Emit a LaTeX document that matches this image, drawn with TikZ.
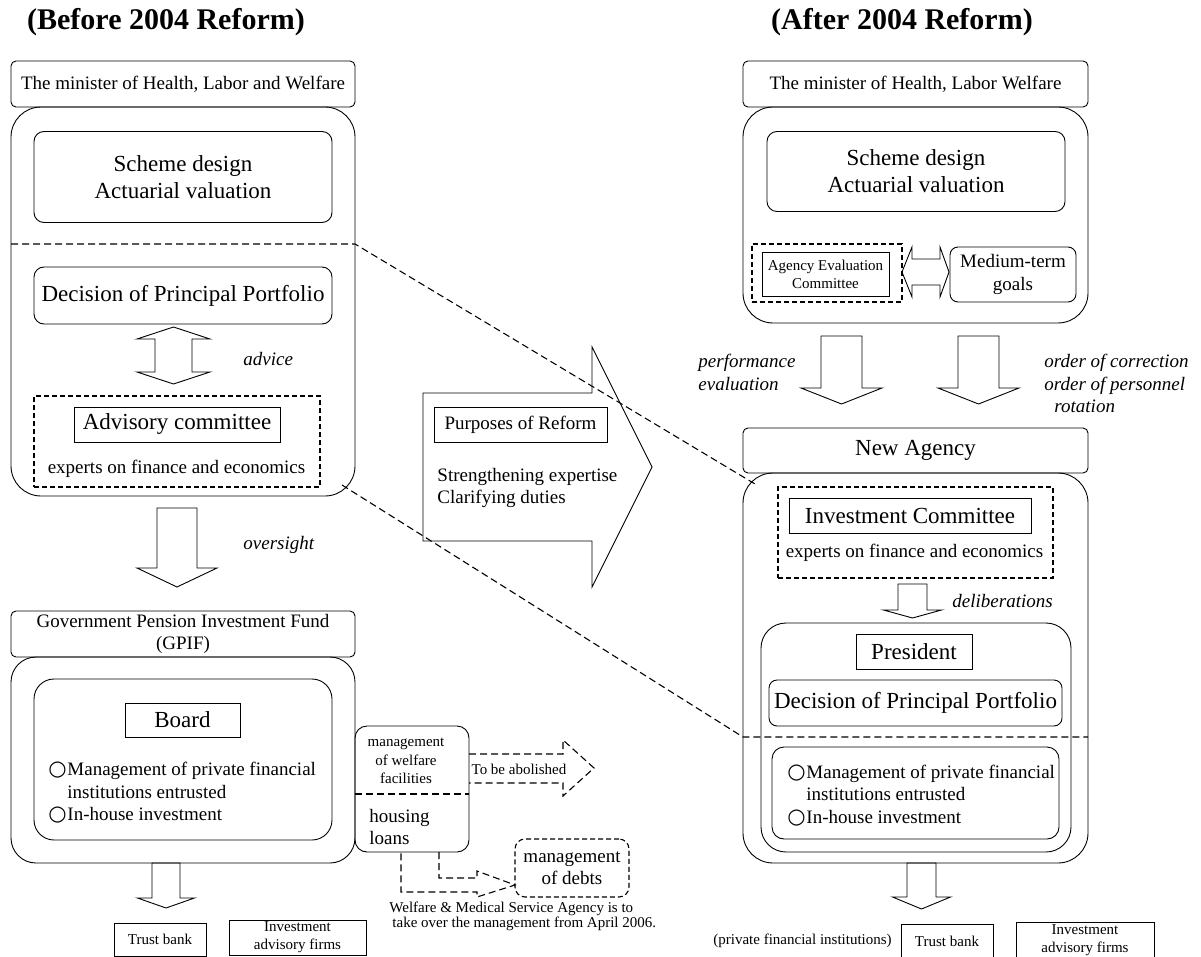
\documentclass[tikz,border=0pt]{standalone}
\usepackage{fontspec}
\setmainfont{Liberation Serif}
\newfontfamily\circfont{DejaVu Sans}
\newcommand{\fsS}{\fontsize{15}{18.5}\selectfont}
\newcommand{\fsM}{\fontsize{19}{22.5}\selectfont}
\newcommand{\fsL}{\fontsize{23}{27}\selectfont}
\newcommand{\fsT}{\fontsize{30}{34}\selectfont\bfseries}
\newcommand{\bul}{\makebox[1em][l]{\circfont\fontsize{21}{22}\selectfont ○}}
\newcommand{\blockdown}[6]{%
  \draw (#1-#5,#2) -- (#1+#5,#2) -- (#1+#5,#3) -- (#1+#6,#3) -- (#1,#4) -- (#1-#6,#3) -- (#1-#5,#3) -- cycle;}
\tikzset{
  every node/.style={inner sep=0pt},
  boxsize/.style 2 args={minimum width=#1pt, minimum height=#2pt},
  rbox/.style={draw, rounded corners=5pt, align=center},
  rrbox/.style={draw, rounded corners=10pt, align=center},
  cont/.style={draw, rounded corners=30pt},
  sqbox/.style={draw, align=center},
  dbox/.style={draw, line width=1.3pt, dash pattern=on 5pt off 3pt},
  dline/.style={line width=1.1pt, dash pattern=on 7pt off 4pt},
  lbl/.style={font=\fsM\itshape, align=left, anchor=west}
}

\begin{document}
\begin{tikzpicture}[x=1pt, y=-1pt, line width=0.9pt]
  \path[fill=white, use as bounding box] (0,0) rectangle (1201,957);

  \node[font=\fsT] (titleL) at (166,22) {(Before 2004 Reform)};
  \node[font=\fsT] (titleR) at (902,22) {(After 2004 Reform)};

  \node[cont, boxsize={344}{389}] (contL) at (183,301.5) {};
  \node[rbox, boxsize={344}{46}, font=\fsM] (minL) at (183,84) {The minister of Health, Labor and Welfare};
  \node[rrbox, boxsize={298}{91}, font=\fsL] (schemeL) at (183,177) {Scheme design\\Actuarial valuation};
  \node[rrbox, boxsize={298}{57}, font=\fsL] (decL) at (183,295.5) {Decision of Principal Portfolio};
  \draw (173.5,327) -- (210,339) -- (192,339) -- (192,372) -- (210,372) -- (173.5,384)
    -- (137,372) -- (155,372) -- (155,339) -- (137,339) -- cycle;
  \node[lbl] (advice) at (243,359) {advice};
  \node[dbox, boxsize={286}{91}] (advdash) at (177,441.5) {};
  \node[sqbox, boxsize={206}{35}, font=\fsL] (advcom) at (177,424.5) {Advisory committee};
  \node[font=\fsM] (expL) at (176.5,469) {experts on finance and economics};

  \blockdown{177}{508}{568}{587}{20}{40}
  \node[lbl] (oversight) at (243,545) {oversight};

  \node[cont, rounded corners=25pt, boxsize={344}{206}] (contG) at (183,760) {};
  \node[rbox, boxsize={344}{46}, font=\fsM] (gpif) at (183,634) {Government Pension Investment Fund\\(GPIF)};
  \node[draw, rounded corners=20pt, boxsize={298}{161}] (boardgrp) at (183,759.5) {};
  \node[sqbox, boxsize={115}{34}, font=\fsL] (board) at (182.5,720) {Board};
  \node[font=\fsM, align=left, anchor=west] (bulL) at (48,793)
    {\bul Management of private financial\\\hspace{1em}institutions entrusted\\\bul In-house investment};

  \node[draw, rounded corners=12pt, boxsize={114}{126}] (side) at (412,789) {};
  \coordinate (sw) at (355,794);
  \coordinate (se) at (469,794);
  \draw[dline] (sw) -- (se);
  \node[font=\fsS, align=center] (welf) at (406,761) {management\\of welfare\\facilities};
  \node[font=\fsM, align=left, anchor=west] (housing) at (369,827) {housing\\loans};
  \draw[dline] (469,754) -- (563,754) -- (563,740) -- (594,768) -- (563,796) -- (563,783) -- (469,783);
  \node[font=\fsS] (abol) at (519,769) {To be abolished};
  \node[draw, line width=1.1pt, dash pattern=on 5pt off 3pt, rounded corners=10pt, boxsize={114}{58}, font=\fsM, align=center] (debts) at (572,868) {management\\of debts};
  \draw[dline] (439,852) -- (439,878) -- (477,878) -- (477,871) -- (515,885) -- (477,897)
    -- (477,892) -- (401,892) -- (401,852);
  \node[font=\fontsize{15}{13}\selectfont, align=left, anchor=west] (takeover) at (389,916.5)
    {Welfare \& Medical Service Agency is to\\\hspace{3pt}take over the management from April 2006.};

  \blockdown{166}{863}{898}{908}{14}{28.5}
  \node[sqbox, boxsize={92}{33}, font=\fsS] (trustL) at (160,939.5) {Trust bank};
  \node[sqbox, boxsize={137}{35}, font=\fontsize{15}{18}\selectfont] (advfL) at (297.5,937.5) {Investment\\advisory firms};

  \draw (423,393) -- (592,393) -- (592,347) -- (652,467) -- (592,587) -- (592,541) -- (423,541) -- cycle;
  \node[sqbox, boxsize={173}{35}, font=\fsM] (purp) at (520.5,424.5) {Purposes of Reform};
  \node[font=\fsM, align=left, anchor=west] (aims) at (437,488) {Strengthening expertise\\Clarifying duties};

  \node[cont, boxsize={345}{216}] (contR) at (915.5,215) {};
  \node[rbox, boxsize={345}{46}, font=\fsM] (minR) at (915.5,84) {The minister of Health, Labor Welfare};
  \node[rrbox, boxsize={298}{80}, font=\fsL] (schemeR) at (916,171.5) {Scheme design\\Actuarial valuation};
  \node[dbox, boxsize={150}{58}] (evaldash) at (827,273) {};
  \node[sqbox, boxsize={127}{44}, font=\fontsize{15}{18}\selectfont] (evalcom) at (825.5,274) {Agency Evaluation\\Committee};
  \draw (902,272) -- (912,247) -- (912,259) -- (940,259) -- (940,247) -- (949,272)
    -- (940,297) -- (940,285) -- (912,285) -- (912,297) -- cycle;
  \node[draw, rounded corners=8pt, boxsize={126}{55}, font=\fsM, align=center] (goals) at (1013,274.5) {Medium-term\\goals};

  \blockdown{841.5}{336}{388}{404}{20.5}{40.5}
  \blockdown{978.5}{336}{388}{404}{20.5}{40.5}
  \node[lbl] (perf) at (698,372.5) {performance\\evaluation};
  \node[lbl] (orders) at (1044,383.5) {order of correction\\order of personnel\\\hspace{10pt}rotation};

  \node[cont, boxsize={345}{390}] (contA) at (915.5,668) {};
  \node[rbox, boxsize={345}{45}, font=\fsL] (agency) at (915.5,450.5) {New Agency};
  \node[dbox, boxsize={275}{91}] (invdash) at (915.5,532.5) {};
  \node[sqbox, boxsize={242}{35}, font=\fsL] (invcom) at (910,515.5) {Investment Committee};
  \node[font=\fsM] (expR) at (914.5,553) {experts on finance and economics};
  \blockdown{912.5}{584}{610}{618}{14.5}{29}
  \node[lbl] (delib) at (952,601) {deliberations};
  \node[draw, rounded corners=25pt, boxsize={310}{229}] (presgrp) at (916,737.5) {};
  \node[sqbox, boxsize={116}{35}, font=\fsL] (pres) at (914,651.5) {President};
  \node[rrbox, rounded corners=8pt, boxsize={293}{46}, font=\fsL] (decR) at (915.5,703) {Decision of Principal Portfolio};
  \node[draw, rounded corners=12pt, boxsize={287}{92}] (mgmtR) at (915.5,793) {};
  \node[font=\fsM, align=left, anchor=west] (bulR) at (787,795.5)
    {\bul Management of private financial\\\hspace{1em}institutions entrusted\\\bul In-house investment};

  \coordinate (dL1) at (11,244);
  \coordinate (dL2) at (355,244);
  \coordinate (dR1) at (755,484);
  \coordinate (dL3) at (342,485);
  \coordinate (dR2) at (743,737);
  \coordinate (dR3) at (1088,737);
  \draw[dline] (dL1) -- (dL2) -- (dR1);
  \draw[dline] (dL3) -- (dR2) -- (dR3);

  \blockdown{921.5}{863}{897}{909}{14.5}{29}
  \node[font=\fsS] (privR) at (802.5,941) {(private financial institutions)};
  \node[sqbox, boxsize={92}{34}, font=\fsS] (trustR) at (947,941) {Trust bank};
  \node[sqbox, boxsize={138}{36}, font=\fontsize{15}{18}\selectfont] (advfR) at (1085,940) {Investment\\advisory firms};
\end{tikzpicture}
\end{document}
